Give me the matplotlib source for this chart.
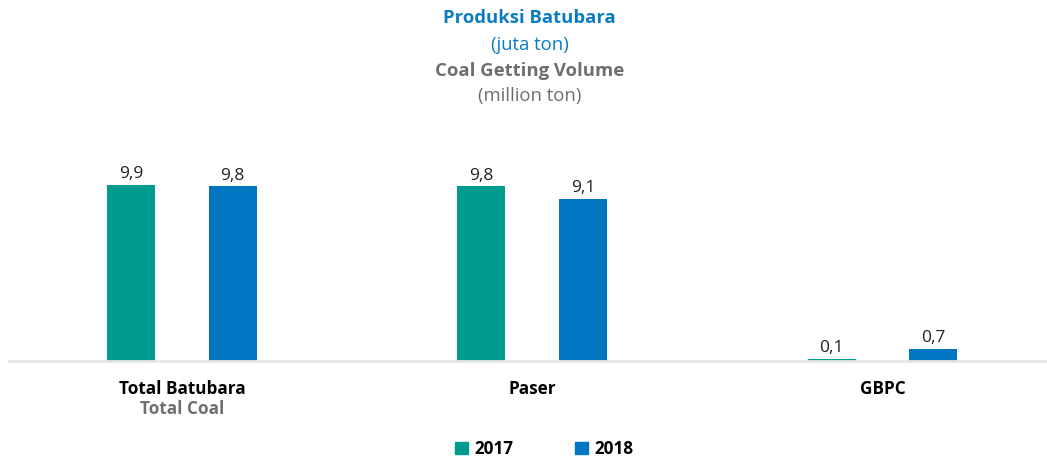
import numpy as np
import matplotlib.pyplot as plt
from matplotlib.patches import Patch

plt.rcParams['font.family'] = ['Open Sans', 'DejaVu Sans']

categories = ["Total Batubara", "Paser", "GBPC"]
categories_en = ["Total Coal", "", ""]
years = ["2017", "2018"]
val_2017 = [9.9, 9.8, 0.1]
val_2018 = [9.8, 9.1, 0.7]

teal = "#009B8F"
blue = "#0077C0"
grey = "#6E6E6E"

fig = plt.figure(figsize=(10.47, 4.59), dpi=100)
ax = fig.add_axes([9 / 1047, 1 - 361 / 459, 1 - 9 / 1047, 196 / 459])

x = np.arange(len(categories))
w = 0.137
off = 0.145
b1 = ax.bar(x - off, val_2017, w, color=teal)
b2 = ax.bar(x + off, val_2018, w, color=blue)

def fmt(v):
    return f"{v:.1f}".replace(".", ",")

for bars, vals in ((b1, val_2017), (b2, val_2018)):
    for r, v in zip(bars, vals):
        ax.annotate(fmt(v), (r.get_x() + r.get_width() / 2, r.get_height()),
                    xytext=(0, 2), textcoords="offset points",
                    ha="center", va="bottom", fontsize=12.5, color="#222222")

ax.set_xlim(-0.494, 2.47)
ax.set_ylim(0, 11)
for s in ["top", "right", "left"]:
    ax.spines[s].set_visible(False)
ax.spines["bottom"].set_color("#E6E6E6")
ax.spines["bottom"].set_linewidth(2)
ax.set_yticks([])
ax.set_xticks([])

for xi, c, ce in zip(x, categories, categories_en):
    ax.text(xi, -1.05, c, ha="center", va="top", fontsize=12.3,
            fontweight="bold", color="black")
    if ce:
        ax.text(xi, -2.2, ce, ha="center", va="top", fontsize=12.3,
                fontweight="bold", color=grey)

# title block
fig.text(0.506, 1 - 18 / 459, "Produksi Batubara", ha="center", va="center",
         fontsize=13.3, fontweight="bold", color="#0A7DC2")
fig.text(0.506, 1 - 45 / 459, "(juta ton)", ha="center", va="center",
         fontsize=13.3, color="#0A7DC2")
fig.text(0.506, 1 - 71 / 459, "Coal Getting Volume", ha="center", va="center",
         fontsize=13.3, fontweight="bold", color=grey)
fig.text(0.506, 1 - 96 / 459, "(million ton)", ha="center", va="center",
         fontsize=13.3, color=grey)

handles = [Patch(color=teal), Patch(color=blue)]
leg = fig.legend(handles, years, loc="center", bbox_to_anchor=(0.520, 1 - 449 / 459),
                 ncol=2, frameon=False, handlelength=0.75, handleheight=0.75,
                 handletextpad=0.4, columnspacing=3.6,
                 prop={"weight": "bold", "size": 12.3})

fig.savefig("out.png", dpi=100)
